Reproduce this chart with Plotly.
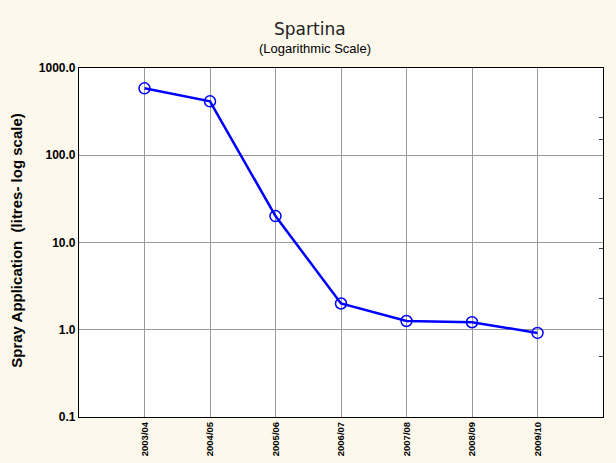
import plotly.graph_objects as go

seasons = ["2003/04", "2004/05", "2005/06", "2006/07", "2007/08", "2008/09", "2009/10"]
spray_litres = [585, 415, 20.1, 2.0, 1.26, 1.22, 0.92]
y_tick_vals = [0.1, 1, 10, 100, 1000]
y_tick_text = ["0.1", "1.0", "10.0", "100.0", "1000.0"]
right_minor_ticks = [269, 153, 32, 8.55, 2.29, 0.49]

BG = "#FDF8EC"
FONT = "Liberation Sans, Arial, sans-serif"

fig = go.Figure()
fig.add_trace(go.Scatter(
    x=seasons, y=spray_litres, mode="lines+markers",
    line=dict(color="#0000FF", width=2.5),
    marker=dict(symbol="circle-open", size=11, color="#0000FF", line=dict(width=1.5)),
    showlegend=False, hoverinfo="x+y",
))
# invisible trace to carry the right-hand minor tick axis
fig.add_trace(go.Scatter(
    x=seasons, y=spray_litres, yaxis="y2", mode="lines",
    line=dict(width=0), opacity=0, showlegend=False, hoverinfo="skip",
))

fig.update_layout(
    width=616, height=463,
    paper_bgcolor=BG, plot_bgcolor="white",
    margin=dict(l=79, r=13, t=68, b=46, autoexpand=False),
    font=dict(family=FONT, color="black"),
    xaxis=dict(
        type="category", range=[-1, 7], automargin=False,
        tickangle=-90, tickfont=dict(size=9.5, family=FONT, weight="bold"),
        showgrid=True, gridcolor="#9a9a9a", gridwidth=1,
        showline=True, linecolor="black", linewidth=1.2, mirror=True,
        ticks="", zeroline=False,
    ),
    yaxis=dict(
        type="log", range=[-1, 3], automargin=False,
        tickvals=y_tick_vals, ticktext=y_tick_text,
        tickfont=dict(size=12, family=FONT, weight="bold"),
        showgrid=True, gridcolor="#9a9a9a", gridwidth=1,
        showline=True, linecolor="black", linewidth=1.2, mirror=True,
        ticks="", zeroline=False,
    ),
    yaxis2=dict(
        type="log", range=[-1, 3], overlaying="y", side="right", automargin=False,
        tickvals=right_minor_ticks, showticklabels=False,
        ticks="inside", ticklen=4, tickcolor="#444444", tickwidth=1,
        showgrid=False, showline=False, zeroline=False,
    ),
    annotations=[
        dict(text="Spartina", xref="paper", yref="paper", x=0.44, y=1.0,
             yshift=39, showarrow=False, xanchor="center", yanchor="middle",
             font=dict(size=17, family="DejaVu Sans, sans-serif", color="#222222")),
        dict(text="(Logarithmic Scale)", xref="paper", yref="paper", x=0.45, y=1.0,
             yshift=20, showarrow=False, xanchor="center", yanchor="middle",
             font=dict(size=13, family=FONT, color="black")),
        dict(text="Spray Application  (litres- log scale)", xref="paper", yref="paper",
             x=0, y=0.505, xshift=-62, textangle=-90, showarrow=False,
             xanchor="center", yanchor="middle",
             font=dict(size=15, family=FONT, color="black", weight="bold")),
    ],
)

fig.write_html("out.html", config={"displayModeBar": False},
               post_script="document.body.style.margin='0px';")
